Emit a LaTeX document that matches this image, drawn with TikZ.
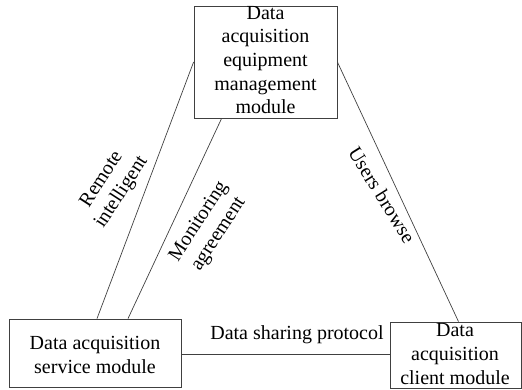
\documentclass[tikz,border=0pt]{standalone}
\usepackage{fontspec}
\setmainfont{Liberation Serif}
\begin{document}
\begin{tikzpicture}[x=1pt,y=-1pt,
  modbox/.style={draw=black!75,line width=0.8pt,rectangle,inner sep=0pt},
  modtext/.style={align=center,inner sep=0pt,font=\fontsize{20}{23.6}\selectfont},
  link/.style={draw=black!75,line width=0.7pt},
  linklabel/.style={align=center,inner sep=0pt,font=\fontsize{20}{23.6}\selectfont}]
\useasboundingbox (0,0) rectangle (522,389);

% module boxes
\node[modbox,minimum width=143pt,minimum height=112pt] (eq) at (265.5,62) {};
\node[modbox,minimum width=172pt,minimum height=68pt] (srv) at (95,353) {};
\node[modbox,minimum width=131pt,minimum height=66pt] (cli) at (455.5,355) {};

% box texts
\node[modtext] (eqt) at (265.5,60) {Data\\acquisition\\equipment\\management\\module};
\node[modtext] (srvt) at (95,355) {Data acquisition\\service module};
\node[modtext] (clit) at (455,354) {Data\\acquisition\\client module};

% connector end points
\coordinate (monA) at ([xshift=28pt]eq.south west);
\coordinate (monB) at ([xshift=33pt]srv.north);
\coordinate (remB) at ([xshift=2pt]srv.north);
\coordinate (usrB) at ([xshift=3pt]cli.north);
\coordinate (shrB) at (srv.east -| cli.west);

% connectors
\draw[link] (eq.west) -- (remB);
\draw[link] (monA) -- (monB);
\draw[link] (eq.east) -- (usrB);
\draw[link] ([yshift=-1pt]srv.east) -- ([yshift=-1pt]shrB);

% connector labels
\node[linklabel,rotate=57] (reml) at (112,186) {Remote\\intelligent};
\node[linklabel,rotate=57] (monl) at (209,228) {Monitoring\\agreement};
\node[linklabel,rotate=-58] (usrl) at (382,195) {Users browse};
\node[linklabel] (shrl) at (297,335) {Data sharing protocol};
\end{tikzpicture}
\end{document}
